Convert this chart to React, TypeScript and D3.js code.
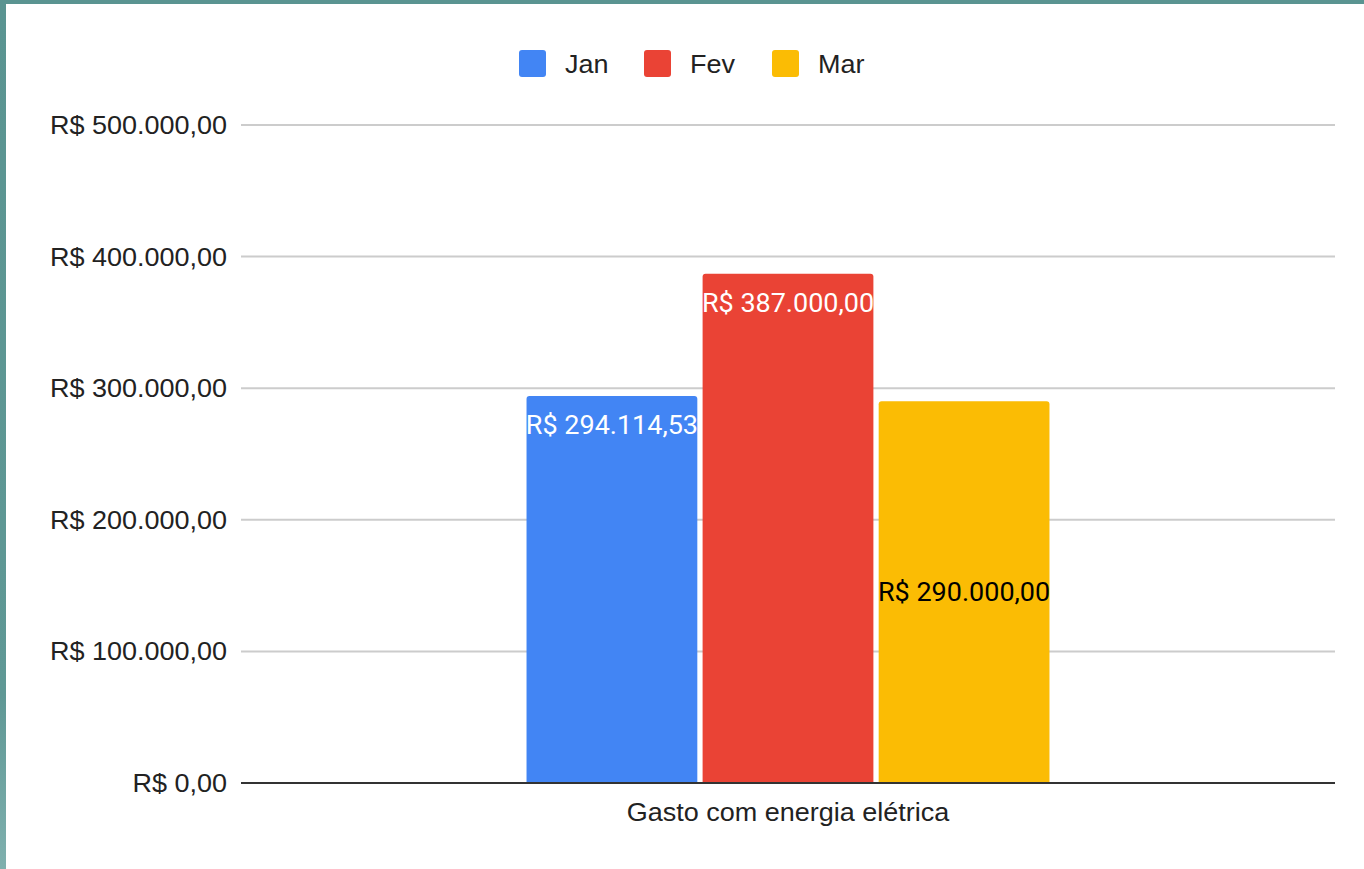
import React from "react";
import * as d3 from "d3";

const categories = ["Gasto com energia elétrica"];
const seriesNames = ["Jan", "Fev", "Mar"];
const seriesValues = [294114.53, 387000, 290000];
const seriesColors = ["#4285f4", "#ea4335", "#fbbc04"];
const labelColors = ["#ffffff", "#ffffff", "#000000"];
const labelTexts = ["R$ 294.114,53", "R$ 387.000,00", "R$ 290.000,00"];
const yTicks = [0, 100000, 200000, 300000, 400000, 500000];

const fmt = (v: number) =>
  "R$ " +
  v.toLocaleString("pt-BR", { minimumFractionDigits: 2, maximumFractionDigits: 2 });

const SX = 1.08;

function T(props: { x: number; y: number; anchor?: string; family: string; size: number; fill: string; children: React.ReactNode }) {
  return (
    <text
      transform={`translate(${props.x},${props.y}) scale(${SX},1)`}
      textAnchor={props.anchor || "start"}
      fontFamily={props.family}
      fontSize={props.size}
      fill={props.fill}
    >
      {props.children}
    </text>
  );
}

const ARIAL = "Liberation Sans, Arial, sans-serif";
const ROBOTO = "Roboto, sans-serif";

export default function App() {
  const W = 1364, H = 869;
  const left = 241, right = 1335, top = 125, bottom = 783;
  const y = d3.scaleLinear().domain([0, 500000]).range([bottom, top]);
  const x0 = d3.scaleBand().domain(categories).range([left, right]).paddingInner(0).paddingOuter(0.546);
  const x1 = d3.scaleBand().domain(seriesNames).range([0, x0.bandwidth()]).paddingInner(0.03);
  const legendX = [519, 644, 772];
  return (
    <div style={{ position: "absolute", left: 0, top: 0, width: W, height: H, background: "#fff" }}>
      <svg width={W} height={H} style={{ display: "block" }}>
        <defs>
          <linearGradient id="lg" x1="0" y1="0" x2="0" y2="1">
            <stop offset="0" stopColor="#5a9491" />
            <stop offset="0.8" stopColor="#5f9895" />
            <stop offset="1" stopColor="#7fb0ae" />
          </linearGradient>
        </defs>
        <rect x={0} y={0} width={W} height={H} fill="#fff" />
        <rect x={0} y={0} width={W} height={4} fill="#5a9491" />
        <rect x={0} y={0} width={6} height={H} fill="url(#lg)" />
        {/* legend */}
        {seriesNames.map((s, i) => (
          <g key={s}>
            <rect x={legendX[i]} y={50} width={27} height={27} rx={3} fill={seriesColors[i]} />
            <T x={legendX[i] + 46} y={73} family={ARIAL} size={25} fill="#222">
              {s}
            </T>
          </g>
        ))}
        {/* grid */}
        {yTicks.map((t) => (
          <g key={t}>
            {t !== 0 && (
              <line x1={left} x2={right} y1={y(t)} y2={y(t)} stroke="#cccccc" strokeWidth={2} />
            )}
            <T x={227} y={y(t) + 9} anchor="end" family={ARIAL} size={25} fill="#222">
              {fmt(t)}
            </T>
          </g>
        ))}
        {/* bars */}
        {categories.map((c) => (
          <g key={c} transform={`translate(${x0(c)},0)`}>
            {seriesNames.map((s, i) => {
              const bx = x1(s)!;
              const bw = x1.bandwidth();
              const by = y(seriesValues[i]);
              const bh = bottom - by;
              const ly = i === 2 ? by + bh / 2 + 9 : by + 38;
              return (
                <g key={s}>
                  <path
                    d={`M${bx},${bottom} V${by + 3} Q${bx},${by} ${bx + 3},${by} H${bx + bw - 3} Q${bx + bw},${by} ${bx + bw},${by + 3} V${bottom} Z`}
                    fill={seriesColors[i]}
                  />
                  <T x={bx + bw / 2} y={ly} anchor="middle" family={ROBOTO} size={25} fill={labelColors[i]}>
                    {labelTexts[i]}
                  </T>
                </g>
              );
            })}
            <T x={x0.bandwidth() / 2} y={821} anchor="middle" family={ARIAL} size={25} fill="#222">
              {c}
            </T>
          </g>
        ))}
        <line x1={left} x2={right} y1={bottom} y2={bottom} stroke="#333" strokeWidth={2} />
      </svg>
    </div>
  );
}
